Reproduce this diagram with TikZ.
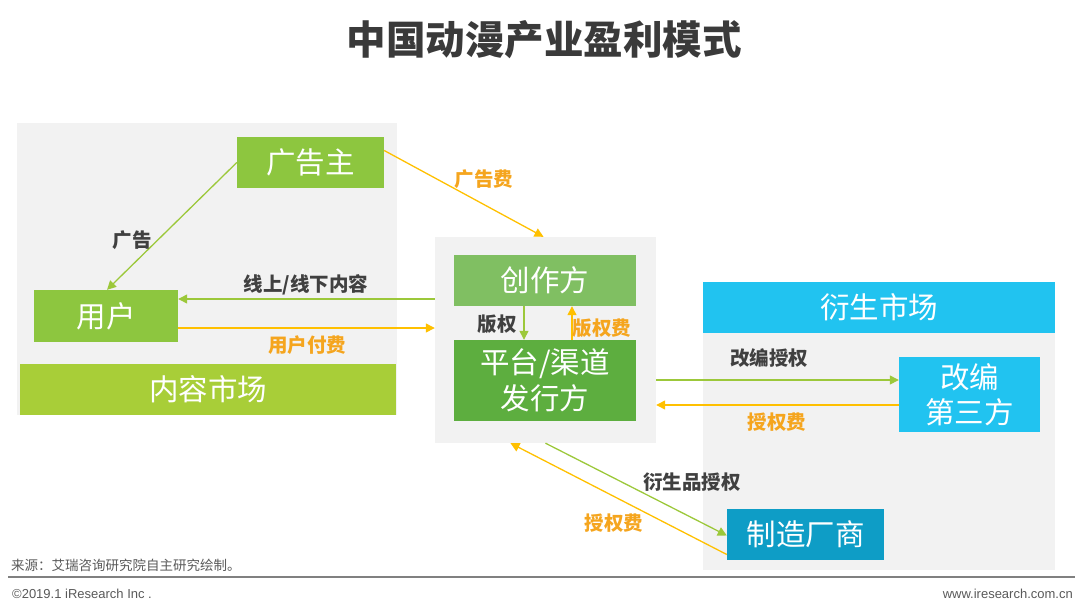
\documentclass[tikz,border=0pt]{standalone}
\usepackage{fontspec}
\setmainfont{Noto Sans CJK SC}
\newfontfamily\latinfont{Liberation Sans}
\usetikzlibrary{arrows.meta}
\definecolor{lime}{HTML}{8DC63F}
\definecolor{marketgreen}{HTML}{A8CE38}
\definecolor{creatorgreen}{HTML}{80BF62}
\definecolor{platgreen}{HTML}{5DAE3F}
\definecolor{cyanbox}{HTML}{21C3F0}
\definecolor{darkcyan}{HTML}{0E9DC6}
\definecolor{panelgray}{HTML}{F2F2F2}
\definecolor{arrowlime}{HTML}{9CC83A}
\definecolor{arrowyellow}{HTML}{FFC000}
\definecolor{labelorange}{HTML}{F5A51E}
\definecolor{labeldark}{HTML}{404040}
\definecolor{titlegray}{HTML}{3A3A3A}
\definecolor{footgray}{HTML}{595959}
\tikzset{
  panel/.style={fill=panelgray,draw=none,inner sep=0pt},
  box/.style={draw=none,inner sep=0pt,text=white,align=center,font=\fontsize{29.5}{34}\selectfont},
  lbl/.style={font=\bfseries\fontsize{19.5}{22}\selectfont,inner sep=0pt},
  darklbl/.style={lbl,text=labeldark},
  orangelbl/.style={lbl,text=labelorange},
  greenarrow/.style={draw=arrowlime,line width=1.3pt,-{Triangle[length=9pt,width=9pt]}},
  yellowarrow/.style={draw=arrowyellow,line width=1.3pt,-{Triangle[length=9pt,width=9pt]}},
}
\begin{document}
\begin{tikzpicture}[x=1pt,y=-1pt]
\useasboundingbox (0,0) rectangle (1080,611);
% title
\node[font=\bfseries\fontsize{39.5}{44}\selectfont,text=titlegray] (title) at (544,40) {中国动漫产业盈利模式};
% panels
\node[panel,minimum width=380pt,minimum height=292pt] (lpanel) at (207,269) {};
\node[panel,minimum width=221pt,minimum height=206pt] (cpanel) at (545.5,340) {};
\node[panel,minimum width=352pt,minimum height=288pt] (rpanel) at (879,426) {};
% left market
\node[box,fill=lime,minimum width=147pt,minimum height=51pt] (ggz) at (310.5,162.5) {广告主};
\node[box,fill=lime,minimum width=144pt,minimum height=52pt] (user) at (106,316) {用户};
\node[box,fill=marketgreen,minimum width=376pt,minimum height=51pt] (nrsc) at (208,389.5) {内容市场};
% center
\node[box,fill=creatorgreen,minimum width=182pt,minimum height=51pt] (cz) at (545,280.5) {创作方};
\node[box,fill=platgreen,minimum width=182pt,minimum height=81pt,font=\fontsize{29.5}{36}\selectfont] (pt) at (545,380.5) {平台/渠道\\发行方};
% right market
\node[box,fill=cyanbox,minimum width=352pt,minimum height=51pt] (yssc) at (879,307.5) {衍生市场};
\node[box,fill=cyanbox,minimum width=141pt,minimum height=75pt,font=\fontsize{29.5}{35}\selectfont] (gb) at (969.5,394.5) {改编\\第三方};
\node[box,fill=darkcyan,minimum width=157pt,minimum height=51pt] (zz) at (805.5,534.5) {制造厂商};
% connectors
\draw[greenarrow] (ggz.west) -- ([xshift=1pt]user.north);
\draw[yellowarrow] ([yshift=12pt]ggz.east) -- ([xshift=-2pt]cpanel.north);
\draw[greenarrow] (cpanel.west |- 0,299) -- (user.east |- 0,299);
\draw[yellowarrow] (user.east |- 0,328) -- (cpanel.west |- 0,328);
\draw[greenarrow] (cz.south -| 524,0) -- (pt.north -| 524,0);
\draw[yellowarrow] (pt.north -| 572,0) -- (cz.south -| 572,0);
\draw[greenarrow] (cpanel.east |- 0,380) -- (gb.west |- 0,380);
\draw[yellowarrow] (gb.west |- 0,405) -- (cpanel.east |- 0,405);
\draw[greenarrow] (cpanel.south) -- ([yshift=-1pt]zz.west);
\draw[yellowarrow] ([yshift=-20pt]zz.west) -- ([xshift=-35pt]cpanel.south);
% labels
\node[darklbl] (lgg) at (132,240) {广告};
\node[orangelbl] (lggf) at (484,179) {广告费};
\node[darklbl] (lxs) at (306,285) {线上/线下内容};
\node[orangelbl] (lyh) at (307,345) {用户付费};
\node[darklbl] (lbq) at (497,324) {版权};
\node[orangelbl] (lbqf) at (602,328) {版权费};
\node[darklbl] (lgbsq) at (769,358) {改编授权};
\node[orangelbl] (lsqf1) at (777,422) {授权费};
\node[darklbl] (lyssq) at (692,482) {衍生品授权};
\node[orangelbl] (lsqf2) at (614,523) {授权费};
% footer
\node[anchor=west,text=footgray,font=\fontsize{13.5}{15}\selectfont,inner sep=0pt] (src) at (11,565) {来源：艾瑞咨询研究院自主研究绘制。};
\draw[draw=gray,line width=1.2pt] (8,577) coordinate (fl) -- (1075,577) coordinate (fr);
\node[anchor=west,text=footgray,font=\latinfont\fontsize{13}{15}\selectfont,inner sep=0pt] (copy) at (12,594) {©2019.1 iResearch Inc .};
\node[anchor=east,text=footgray,font=\latinfont\fontsize{13}{15}\selectfont,inner sep=0pt] (www) at (1073,594) {www.iresearch.com.cn};
\end{tikzpicture}
\end{document}
